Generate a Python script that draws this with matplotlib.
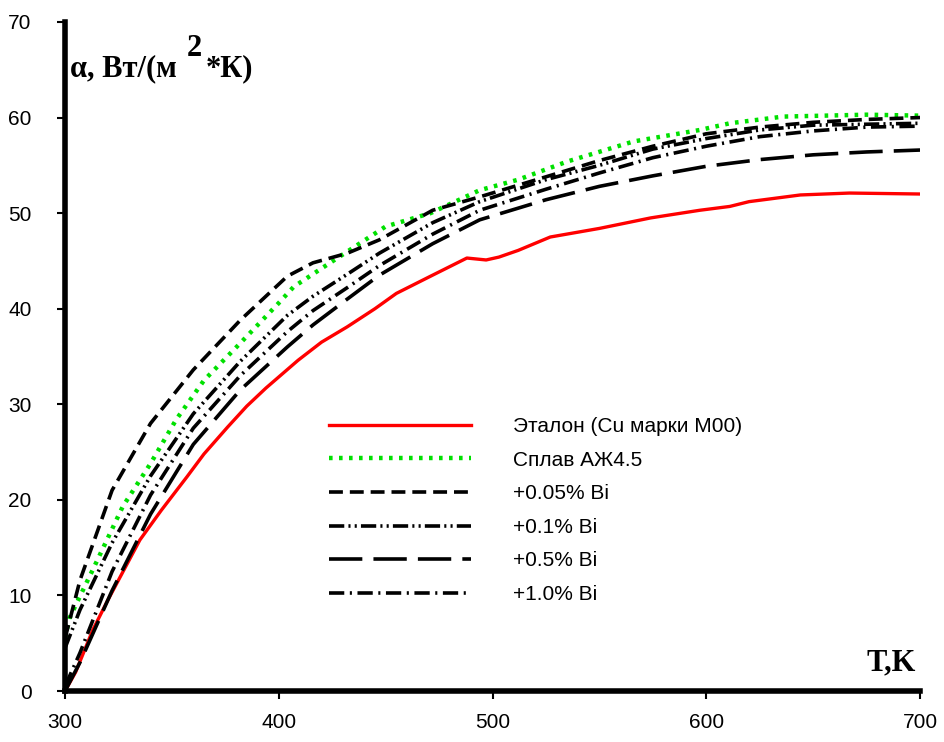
import numpy as np
import matplotlib
matplotlib.use("Agg")
import matplotlib.pyplot as plt
from matplotlib.transforms import offset_copy

plt.rcParams['lines.scale_dashes'] = False

# данные (T, K -> alpha, Вт/(м2*К))
t_red = [300, 305, 313, 320, 335, 345, 357, 365, 376, 385, 394, 409, 420, 432, 445,
         455, 471, 488, 497, 503, 512, 527, 550, 574, 597, 611, 620, 644, 667, 700]
a_red = [0, 2, 6.4, 9.5, 15.8, 18.9, 22.4, 24.8, 27.6, 29.8, 31.7, 34.6, 36.5, 38.1, 40.0,
         41.6, 43.4, 45.3, 45.1, 45.4, 46.1, 47.5, 48.4, 49.5, 50.3, 50.7, 51.2, 51.9, 52.1, 52.0]

t_green = [300, 302, 313, 327, 340, 352, 365, 382, 394, 400, 407, 424, 450, 471, 494,
           512, 535, 566, 597, 611, 636, 675, 700]
a_green = [5.5, 7.6, 12.7, 19.3, 23.8, 28.4, 32.5, 36.4, 39.2, 40.6, 42.3, 44.8, 48.6, 50.0, 52.4,
           53.5, 55.4, 57.5, 58.7, 59.4, 60.1, 60.3, 60.2]

t_bi = [300, 307, 322, 340, 360, 382, 404, 416, 432, 447, 472, 494, 525, 550, 575, 600, 625, 650, 675, 700]
a_bi005 = [5.5, 11.6, 21.0, 28.0, 33.6, 38.8, 43.4, 44.8, 45.8, 47.2, 50.3, 51.7, 53.8, 55.5, 57.0, 58.3, 59.0, 59.5, 59.8, 60.0]
a_bi01 = [4.5, 8.5, 15.5, 22.5, 29.0, 34.5, 39.3, 41.3, 43.6, 45.8, 49.0, 51.2, 53.5, 55.0, 56.7, 57.8, 58.7, 59.2, 59.3, 59.4]
a_bi05 = [0.0, 3.0, 10.5, 18.5, 25.8, 31.5, 36.0, 38.3, 41.0, 43.5, 46.8, 49.3, 51.4, 52.8, 53.9, 54.9, 55.6, 56.1, 56.4, 56.6]
a_bi10 = [0.5, 4.0, 12.5, 20.5, 27.5, 33.0, 37.6, 39.8, 42.2, 44.5, 47.8, 50.3, 52.5, 54.2, 55.8, 57.0, 58.0, 58.6, 59.0, 59.1]

labels = ['Эталон (Cu марки М00)', 'Сплав АЖ4.5', '+0.05% Bi', '+0.1% Bi', '+0.5% Bi', '+1.0% Bi']

sans = ['Liberation Sans', 'DejaVu Sans']
serif = ['Liberation Serif', 'DejaVu Serif']

fig = plt.figure(figsize=(9.44, 7.42), dpi=100)
ax = fig.add_axes([0.0689, 0.0687, 0.9057, 0.9017])

ax.plot(t_red, a_red, color='#ff0000', lw=2.4, label=labels[0])
ax.plot(t_green, a_green, color='#00e000', lw=3.2, dashes=(2.6, 4.6), label=labels[1])
ax.plot(t_bi, a_bi005, color='black', lw=2.6, dashes=(10, 5), label=labels[2])
ax.plot(t_bi, a_bi01, color='black', lw=2.6, dashes=(11, 3, 1.5, 3, 1.5, 3), label=labels[3])
ax.plot(t_bi, a_bi05, color='black', lw=2.6, dashes=(24, 8), label=labels[4])
ax.plot(t_bi, a_bi10, color='black', lw=2.6, dashes=(11, 4, 1.5, 4), label=labels[5])

ax.set_xlim(300, 700)
ax.set_ylim(0, 70)
ax.set_xticks([300, 400, 500, 600, 700])
ax.set_yticks(range(0, 71, 10))

for s in ['top', 'right']:
    ax.spines[s].set_visible(False)
for s in ['left', 'bottom']:
    ax.spines[s].set_linewidth(4)

ax.tick_params(axis='both', length=6, width=1.5, direction='out', labelsize=15)
ax.tick_params(axis='y', pad=18)
ax.tick_params(axis='x', pad=10)
for lab in ax.get_xticklabels() + ax.get_yticklabels():
    lab.set_family(sans)

# подпись оси Y: α, Вт/(м^2*К)
t1 = fig.text(0.074, 0.897, 'α, Вт/(м', family=serif, fontsize=22, fontweight='bold', va='baseline')
fig.canvas.draw()
bb = t1.get_window_extent()
x2 = (bb.x1 + 10) / fig.bbox.width
t2 = fig.text(x2, 0.925, '2', family=serif, fontsize=22, fontweight='bold', va='baseline')
fig.canvas.draw()
bb2 = t2.get_window_extent()
fig.text((bb2.x1 + 4) / fig.bbox.width, 0.897, '*К)', family=serif, fontsize=22,
         fontweight='bold', va='baseline')

fig.text(0.97, 0.097, 'T,K', family=serif, fontsize=22, fontweight='bold', ha='right', va='baseline')

leg = ax.legend(loc='upper left', bbox_to_anchor=(0.287, 0.4375), frameon=False,
                handlelength=6.8, handletextpad=2.0, labelspacing=0.7,
                prop={'family': sans, 'size': 15})

plt.savefig('out.png', dpi=100)
